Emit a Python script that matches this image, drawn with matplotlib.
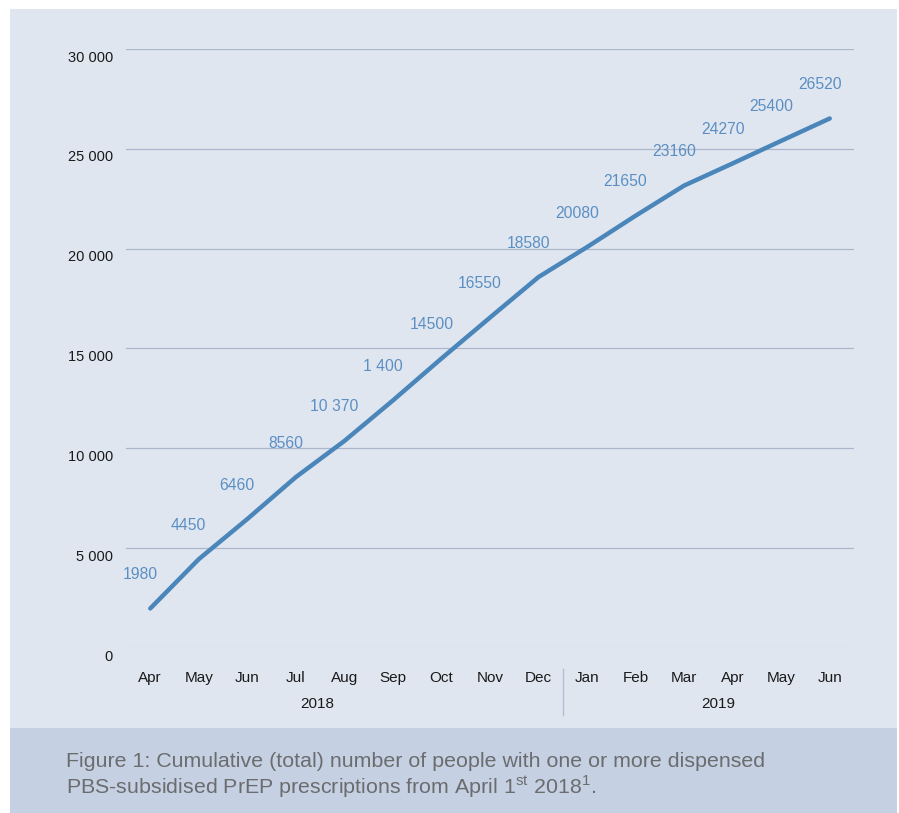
import matplotlib
matplotlib.use("Agg")
import matplotlib.pyplot as plt
from matplotlib.patches import Rectangle
from matplotlib.transforms import ScaledTranslation

plt.rcParams['font.family'] = ['Liberation Sans', 'DejaVu Sans']
plt.rcParams['mathtext.fontset'] = 'custom'
plt.rcParams['mathtext.rm'] = 'Liberation Sans'

# data
months = ["Apr", "May", "Jun", "Jul", "Aug", "Sep", "Oct", "Nov", "Dec",
          "Jan", "Feb", "Mar", "Apr", "May", "Jun"]
people = [1980, 4450, 6460, 8560, 10370, 12400, 14500, 16550, 18580,
          20080, 21650, 23160, 24270, 25400, 26520]
point_labels = ["1980", "4450", "6460", "8560", "10 370", "1 400", "14500", "16550",
                "18580", "20080", "21650", "23160", "24270", "25400", "26520"]
years = ["2018", "2019"]
yticks = [0, 5000, 10000, 15000, 20000, 25000, 30000]
ytick_labels = ["0", "5 000", "10 000", "15 000", "20 000", "25 000", "30 000"]

panel_col = "#e0e6f0"
band_col = "#c5d1e3"
line_col = "#4a86b9"
label_col = "#5b8fc3"
grid_col = "#a9b6cc"

W, H = 899, 813
fig = plt.figure(figsize=(W / 100, H / 100), dpi=100)
fig.patch.set_facecolor("white")

# background panel + caption band
fig.add_artist(Rectangle((10 / W, 0), 887 / W, 804 / H, transform=fig.transFigure,
                         facecolor=panel_col, edgecolor="none", zorder=-10))
fig.add_artist(Rectangle((10 / W, 0), 887 / W, 85 / H, transform=fig.transFigure,
                         facecolor=band_col, edgecolor="none", zorder=-9))

ax = fig.add_axes([126 / W, (H - 648) / H, (854 - 126) / W, (648 - 49) / H])
ax.set_facecolor("none")
for s in ax.spines.values():
    s.set_visible(False)

x = list(range(len(months)))
ax.set_xlim(-0.5, len(months) - 0.5)
ax.set_ylim(0, 30000)

for t in yticks:
    ax.axhline(t, color=grid_col if t > 0 else "#d3d9e3", lw=0.9, zorder=0)

ax.plot(x, people, color=line_col, lw=3.2, solid_capstyle="round",
        solid_joinstyle="round", zorder=3)

for xi, v, lab in zip(x, people, point_labels):
    ax.annotate(lab, xy=(xi, v), xytext=(-10, 34), textcoords="offset pixels",
                ha="center", va="center", color=label_col, fontsize=11.3)

ax.set_yticks(yticks)
ax.set_yticklabels(ytick_labels, fontsize=10.5, color="#1a1a1a")
ax.tick_params(axis="y", length=0, pad=9.4)
for lab in ax.get_yticklabels():
    lab.set_transform(lab.get_transform() + ScaledTranslation(0, -7 / 100, fig.dpi_scale_trans))

ax.set_xticks([])
for xi, m in zip(x, months):
    ax.annotate(m, xy=(xi, 0), xycoords=("data", "axes fraction"), xytext=(0, -30),
                textcoords="offset pixels", ha="center", va="center",
                fontsize=11, color="#1a1a1a")
for xp, yr in zip([3.45, 11.7], years):
    ax.annotate(yr, xy=(xp, 0), xycoords=("data", "axes fraction"), xytext=(0, -56),
                textcoords="offset pixels", ha="center", va="center",
                fontsize=11, color="#1a1a1a")

# separator between years
sep_y0 = (H - 715) / H
sep_y1 = (H - 669) / H
fig.add_artist(plt.Line2D([(126 + 48.53 * 9) / W] * 2, [sep_y0, sep_y1],
                          transform=fig.transFigure, color="#b3bfd2", lw=1))

# caption
cap_col = "#6b6c6e"
fig.text(66 / W, (H - 761) / H,
         "Figure 1: Cumulative (total) number of people with one or more dispensed",
         fontsize=15.4, color=cap_col, va="center", ha="left")
fig.text(66 / W, (H - 787) / H,
         r"PBS-subsidised PrEP prescriptions from April 1$^{\mathrm{st}}$ 2018$^{\mathrm{1}}$.",
         fontsize=15.4, color=cap_col, va="center", ha="left")

fig.savefig("out.png", dpi=100)
